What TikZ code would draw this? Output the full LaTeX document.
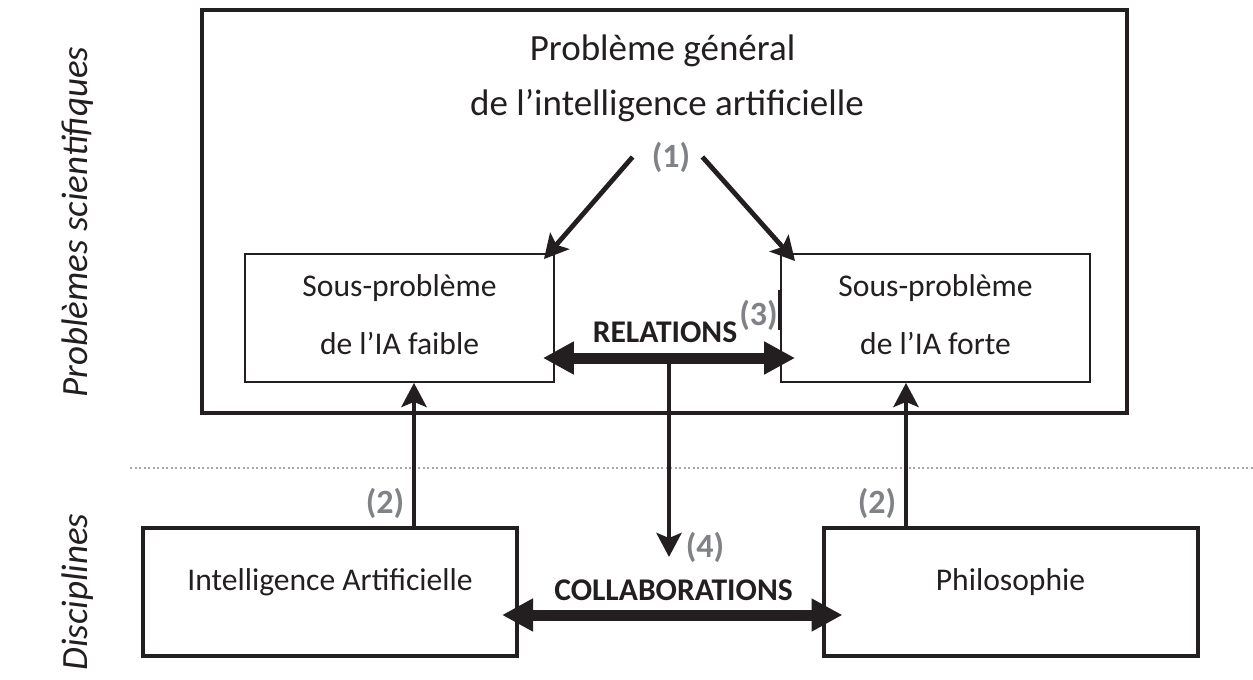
\documentclass[tikz,border=0pt]{standalone}
\usepackage{fontspec}
\setmainfont{Carlito}
\usetikzlibrary{arrows.meta}
\definecolor{numgris}{RGB}{128,130,133}
\definecolor{encre}{RGB}{35,31,32}
\tikzset{
  grand/.style={font=\fontsize{37}{44}\selectfont, text=encre, anchor=base, inner sep=0pt},
  texte/.style={font=\fontsize{31.6}{38}\selectfont, text=encre, anchor=base, inner sep=0pt},
  gras/.style={font=\fontsize{31.6}{38}\selectfont\bfseries, text=encre, anchor=base, inner sep=0pt},
  numero/.style={font=\fontsize{34}{40}\selectfont\bfseries, text=numgris, anchor=base, inner sep=0pt},
  cote/.style={font=\fontsize{37}{44}\selectfont\itshape, text=encre, rotate=90},
  cadre/.style={draw=encre, line width=4.5pt, inner sep=0pt},
  sousboite/.style={draw=encre, line width=1.8pt, minimum width=309pt, minimum height=128pt, inner sep=0pt},
  discipline/.style={draw=encre, line width=4pt, minimum width=374pt, minimum height=128pt, inner sep=0pt},
  fleche/.style={draw=encre, line width=4.8pt, -{Stealth[length=24pt,width=25pt,inset=5pt]}},
  doublefleche/.style={draw=encre, line width=11pt, {Triangle[length=31pt,width=31pt]}-{Triangle[length=31pt,width=31pt]}}
}
\begin{document}
\begin{tikzpicture}[x=1pt,y=-1pt]
    \useasboundingbox (0,0) rectangle (1253,680);
    % cadres
    \node (general) at (664.5,211.5) [cadre, minimum width=925pt, minimum height=403pt] {};
    \node (faible) at (399.5,318) [sousboite] {};
    \node (forte) at (935.5,318) [sousboite] {};
    \node (intel) at (330,592) [discipline] {};
    \node (philo) at (1010.5,592) [discipline] {};
    % textes
    \node (titre1) at (662.5,60) [grand] {Problème général};
    \node (titre2) at (667,115) [grand] {de l’intelligence artificielle};
    \node (faible1) at (399.5,296) [texte] {Sous-problème};
    \node (faible2) at (399.5,354) [texte] {de l’IA faible};
    \node (forte1) at (935.5,296) [texte] {Sous-problème};
    \node (forte2) at (935.5,354) [texte] {de l’IA forte};
    \node (intel1) at (330,590) [texte] {Intelligence Artificielle};
    \node (philo1) at (1010.5,590) [texte] {Philosophie};
    \node (relations) at (665,342) [gras] {RELATIONS};
    \node (collab) at (673.5,600) [gras] {COLLABORATIONS};
    \node (un) at (671,167) [numero] {(1)};
    \node (deuxg) at (385,513) [numero] {(2)};
    \node (deuxd) at (877,513) [numero] {(2)};
    \node (trois) at (758.5,325) [numero] {(3)};
    \node (quatre) at (705,557) [numero] {(4)};
    \node (problemes) at (78,222) [cote] {Problèmes scientifiques};
    \node (disciplines) at (78,592) [cote] {Disciplines};
    % separation
    \coordinate (sepg) at (130,468);
    \coordinate (sepd) at (1253,468);
    \draw[numgris!70, line width=2pt, dash pattern=on 2pt off 2.5pt] (sepg) -- (sepd);
    % fleches
    \draw[fleche] ([xshift=-19pt]un.west) -- ([xshift=-11pt,yshift=-6pt]faible.north east);
    \draw[fleche] ([xshift=12pt]un.east) -- ([xshift=15pt,yshift=-8pt]forte.north west);
    \draw[doublefleche] ([xshift=-12pt,yshift=-40pt]faible.east) -- node[coordinate,pos=0.5] (milieu) {} ([xshift=15pt,yshift=-40pt]forte.west);
    \draw[fleche] (milieu) -- (milieu |- quatre.base);
    \draw[fleche] ([xshift=84pt]intel.north) -- ([xshift=84pt]intel.north |- faible.south);
    \draw[fleche] ([xshift=-104.5pt]philo.north) -- ([xshift=-104.5pt]philo.north |- forte.south);
    \draw[doublefleche] ([xshift=-17pt,yshift=-23pt]intel.east) -- ([xshift=21pt,yshift=-23pt]philo.west);
    \draw[encre, line width=4pt] ([yshift=28pt]forte.west) -- ([yshift=-12pt]forte.west);
\end{tikzpicture}
\end{document}
